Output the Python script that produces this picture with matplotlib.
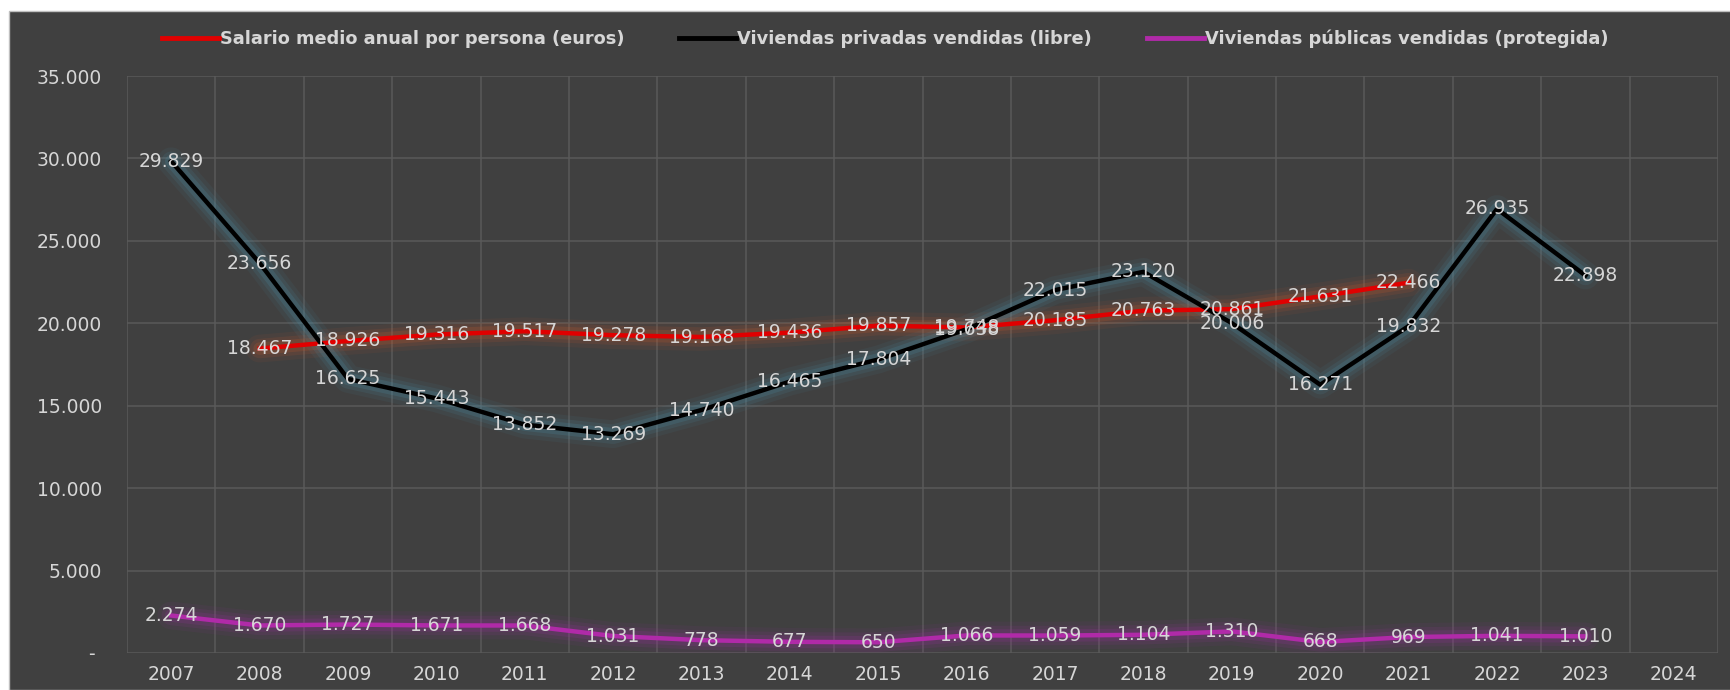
"""Salario medio vs viviendas vendidas (libre / protegida), 2007-2024."""

import matplotlib

matplotlib.use("Agg")
import matplotlib.pyplot as plt
from matplotlib.patches import Rectangle
from matplotlib.lines import Line2D

BG = "#404040"
GRID = "#5a5a5a"
TEXT = "#d6d6d6"

years = list(range(2007, 2025))
# None = sin dato
salario = [None, 18467, 18926, 19316, 19517, 19278, 19168, 19436, 19857,
           19748, 20185, 20763, 20861, 21631, 22466, None, None, None]
libre = [29829, 23656, 16625, 15443, 13852, 13269, 14740, 16465, 17804,
         19638, 22015, 23120, 20006, 16271, 19832, 26935, 22898, None]
protegida = [2274, 1670, 1727, 1671, 1668, 1031, 778, 677, 650,
             1066, 1059, 1104, 1310, 668, 969, 1041, 1010, None]

series = [
    ("Salario medio anual por persona (euros)", salario, "#e00000", "#c8582a"),
    ("Viviendas privadas vendidas (libre)", libre, "#000000", "#4a8fa8"),
    ("Viviendas públicas vendidas (protegida)", protegida, "#b02aa8", "#96309a"),
]


def fmt(v):
    return f"{v:,}".replace(",", ".")


fig = plt.figure(figsize=(17.3, 6.9), dpi=100, facecolor="white")
fig.patches.append(Rectangle((9 / 1730, 0), 1, 679 / 690, transform=fig.transFigure,
                             facecolor=BG, edgecolor="#bfbfbf", lw=1, zorder=-10))
ax = fig.add_axes([127 / 1730, 37 / 690, 1591 / 1730, 577 / 690])
ax.set_facecolor(BG)
ax.set_zorder(2)

handles = []
for name, vals, color, glow in series:
    xs = [y for y, v in zip(years, vals) if v is not None]
    ys = [v for v in vals if v is not None]
    # halo suave alrededor de cada linea
    for lw, a in [(20, 0.08), (14, 0.13), (9, 0.2)]:
        ax.plot(xs, ys, color=glow, lw=lw, alpha=a, solid_capstyle="round",
                solid_joinstyle="round", zorder=2)
    ax.plot(xs, ys, color=color, lw=3.2, solid_joinstyle="round", zorder=3)
    handles.append(Line2D([], [], color=color, lw=3.5, label=name))

for name, vals, color, glow in series:
    for y, v in zip(years, vals):
        if v is not None:
            ax.text(y, v, fmt(v), ha="center", va="center", fontsize=13.5,
                    color=TEXT, zorder=5)

ax.set_xlim(2006.5, 2024.5)
ax.set_ylim(0, 35000)
ax.set_xticks(years)
ax.set_xticks([y + 0.5 for y in range(2006, 2025)], minor=True)
ax.set_yticks(range(0, 35001, 5000))
ax.set_yticklabels(["- "] + [fmt(v) for v in range(5000, 35001, 5000)])
ax.tick_params(axis="both", which="both", length=0, labelcolor=TEXT, labelsize=13.5)
ax.tick_params(axis="y", pad=18)
ax.tick_params(axis="x", pad=9)
ax.grid(axis="y", which="major", color=GRID, lw=1.1)
ax.grid(axis="x", which="minor", color=GRID, lw=1.1)
for s in ax.spines.values():
    s.set_visible(False)

fig.legend(handles=handles, loc="center", bbox_to_anchor=(885 / 1730, 651 / 690),
           ncol=3, frameon=False, handlelength=3.2, handletextpad=0.05,
           columnspacing=3.1, prop={"weight": "bold", "size": 12.8},
           labelcolor=TEXT)

fig.savefig("out.png", dpi=100, facecolor=fig.get_facecolor())
